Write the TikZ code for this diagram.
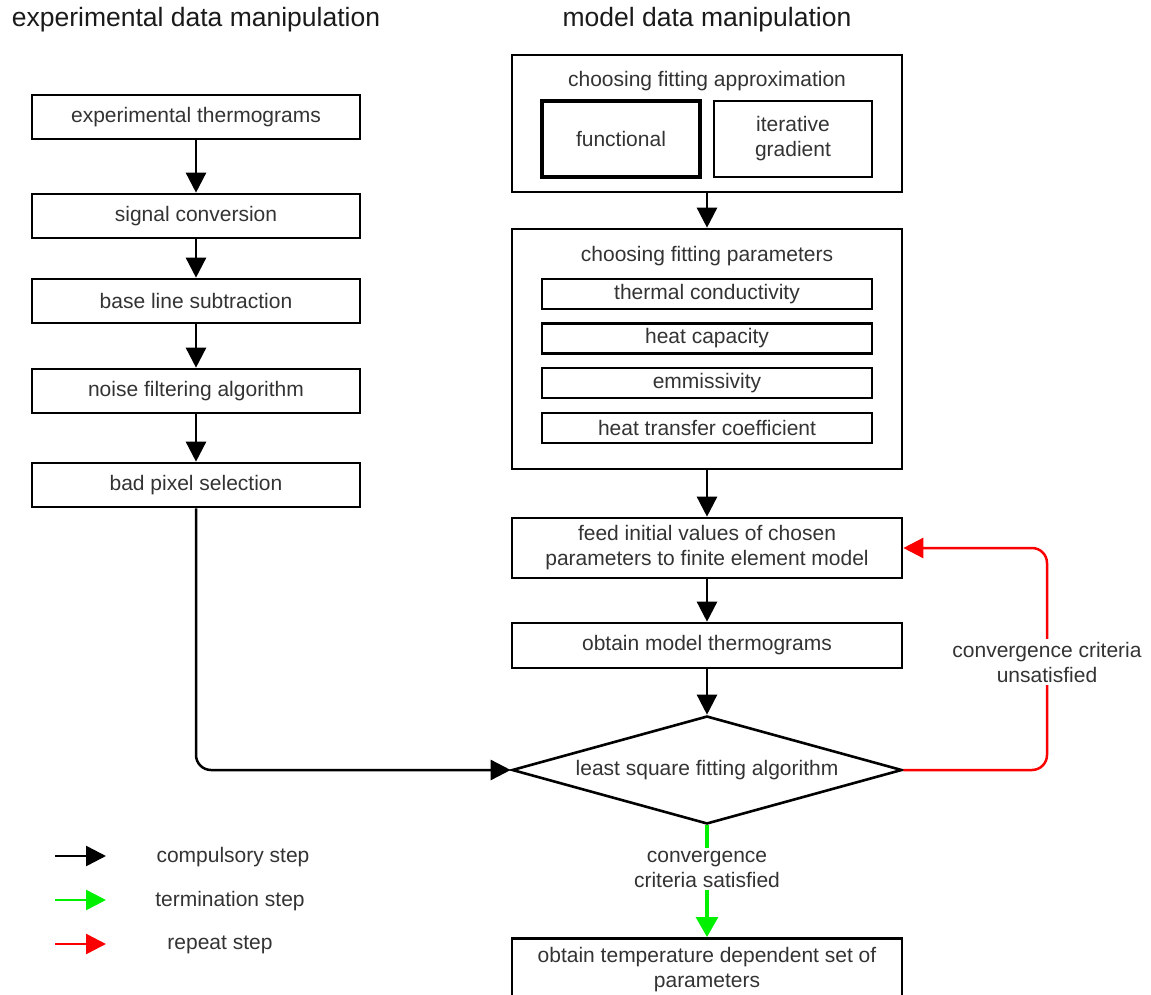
\documentclass[tikz,border=0pt]{standalone}
\usepackage{fontspec}
\setmainfont{Liberation Sans}
\usetikzlibrary{arrows.meta,shapes.geometric}
\definecolor{txt}{HTML}{333333}
\definecolor{ttl}{HTML}{1A1A1A}
\definecolor{grn}{RGB}{0,240,0}
\definecolor{rd}{RGB}{250,0,0}
\begin{document}
\begin{tikzpicture}[x=1pt,y=-1pt,
  lbl/.style={font=\fontsize{21}{25}\selectfont, text=txt, align=center, inner sep=0pt},
  ttlnode/.style={font=\fontsize{26.5}{30}\selectfont, text=ttl, inner sep=0pt},
  box/.style={draw, line width=2.6pt, minimum width=328pt, minimum height=44pt, inner sep=0pt, lbl},
  bigbox/.style={draw, line width=2.6pt, minimum width=390pt, inner sep=0pt, lbl},
  smallbox/.style={draw, line width=2.4pt, minimum width=330pt, minimum height=30pt, inner sep=0pt, lbl},
  arr/.style={line width=2.5pt, -{Triangle[length=20pt,width=20pt]}},
  redarr/.style={draw=rd, line width=2.5pt, -{Triangle[length=20pt,width=20pt]}, rounded corners=15pt},
  grnarr/.style={draw=grn, line width=3.2pt, -{Triangle[length=20pt,width=22pt]}},
]
\useasboundingbox (0,0) rectangle (1151,995);

% titles
\node[ttlnode] (t1) at (196,20) {experimental data manipulation};
\node[ttlnode] (t2) at (707,20) {model data manipulation};

% left column
\node[box] (e1) at (196,117) {experimental thermograms};
\node[box] (e2) at (196,216) {signal conversion};
\node[box] (e3) at (196,301) {base line subtraction};
\node[box] (e4) at (196,391) {noise filtering algorithm};
\node[box] (e5) at (196,485) {bad pixel selection};
\draw[arr] (e1) -- (e2);
\draw[arr] (e2) -- (e3);
\draw[arr] (e3) -- (e4);
\draw[arr] (e4) -- (e5);

% right column
\node[bigbox, minimum height=137pt] (a) at (707,123.5) {};
\node[lbl] (at) at (707,81) {choosing fitting approximation};
\node[draw, line width=3.4pt, minimum width=158pt, minimum height=76pt, lbl] (f1) at (621,139) {functional};
\node[draw, line width=2.6pt, minimum width=158pt, minimum height=76pt, lbl] (f2) at (793,139) {iterative\\gradient};

\node[bigbox, minimum height=240pt] (p) at (707,349) {};
\node[lbl] (pt) at (707,256) {choosing fitting parameters};
\node[smallbox] (p1) at (707,294) {thermal conductivity};
\node[smallbox] (p2) at (707,338.5) {heat capacity};
\node[smallbox] (p3) at (707,383) {emmissivity};
\node[smallbox] (p4) at (707,428) {heat transfer coefficient};

\node[bigbox, minimum height=60pt] (feed) at (707,548) {feed initial values of chosen\\parameters to finite element model};
\node[bigbox, minimum height=45pt] (mt) at (707,645.5) {obtain model thermograms};
\node[draw, diamond, line width=2.6pt, aspect=3.6, minimum width=390pt, minimum height=108pt, inner sep=0pt, lbl] (d) at (707,770) {least square fitting algorithm};
\node[bigbox, minimum height=62pt, anchor=north] (res) at (707,937) {obtain temperature dependent set of\\parameters};

\draw[arr] (a) -- (p);
\draw[arr] (p) -- (feed);
\draw[arr] (feed) -- (mt);
\draw[arr] (mt) -- (d.north);
\draw[arr, rounded corners=15pt] (e5.south) |- (d.west);

% red loop
\coordinate (r1) at (1047,770);
\coordinate (r2) at (1047,548);
\draw[redarr] (d.east) -- (r1) -- (r2) -- (feed.east);
\node[lbl, fill=white, inner sep=3pt] (rl) at (1047,662) {convergence criteria\\unsatisfied};

% green
\draw[grnarr] (d.south) -- (res.north);
\node[lbl, fill=white, inner sep=3pt] (gl) at (707,869) {convergence\\criteria satisfied};

% legend
\coordinate (l1a) at (55,856); \coordinate (l1b) at (106,856);
\coordinate (l2a) at (55,900); \coordinate (l2b) at (106,900);
\coordinate (l3a) at (55,944); \coordinate (l3b) at (106,944);
\draw[arr] (l1a) -- (l1b);
\draw[arr, draw=grn] (l2a) -- (l2b);
\draw[arr, draw=rd] (l3a) -- (l3b);
\node[lbl] (lg1) at (233,857) {compulsory step};
\node[lbl] (lg2) at (230,901) {termination step};
\node[lbl] (lg3) at (220,945) {repeat step};
\end{tikzpicture}
\end{document}
